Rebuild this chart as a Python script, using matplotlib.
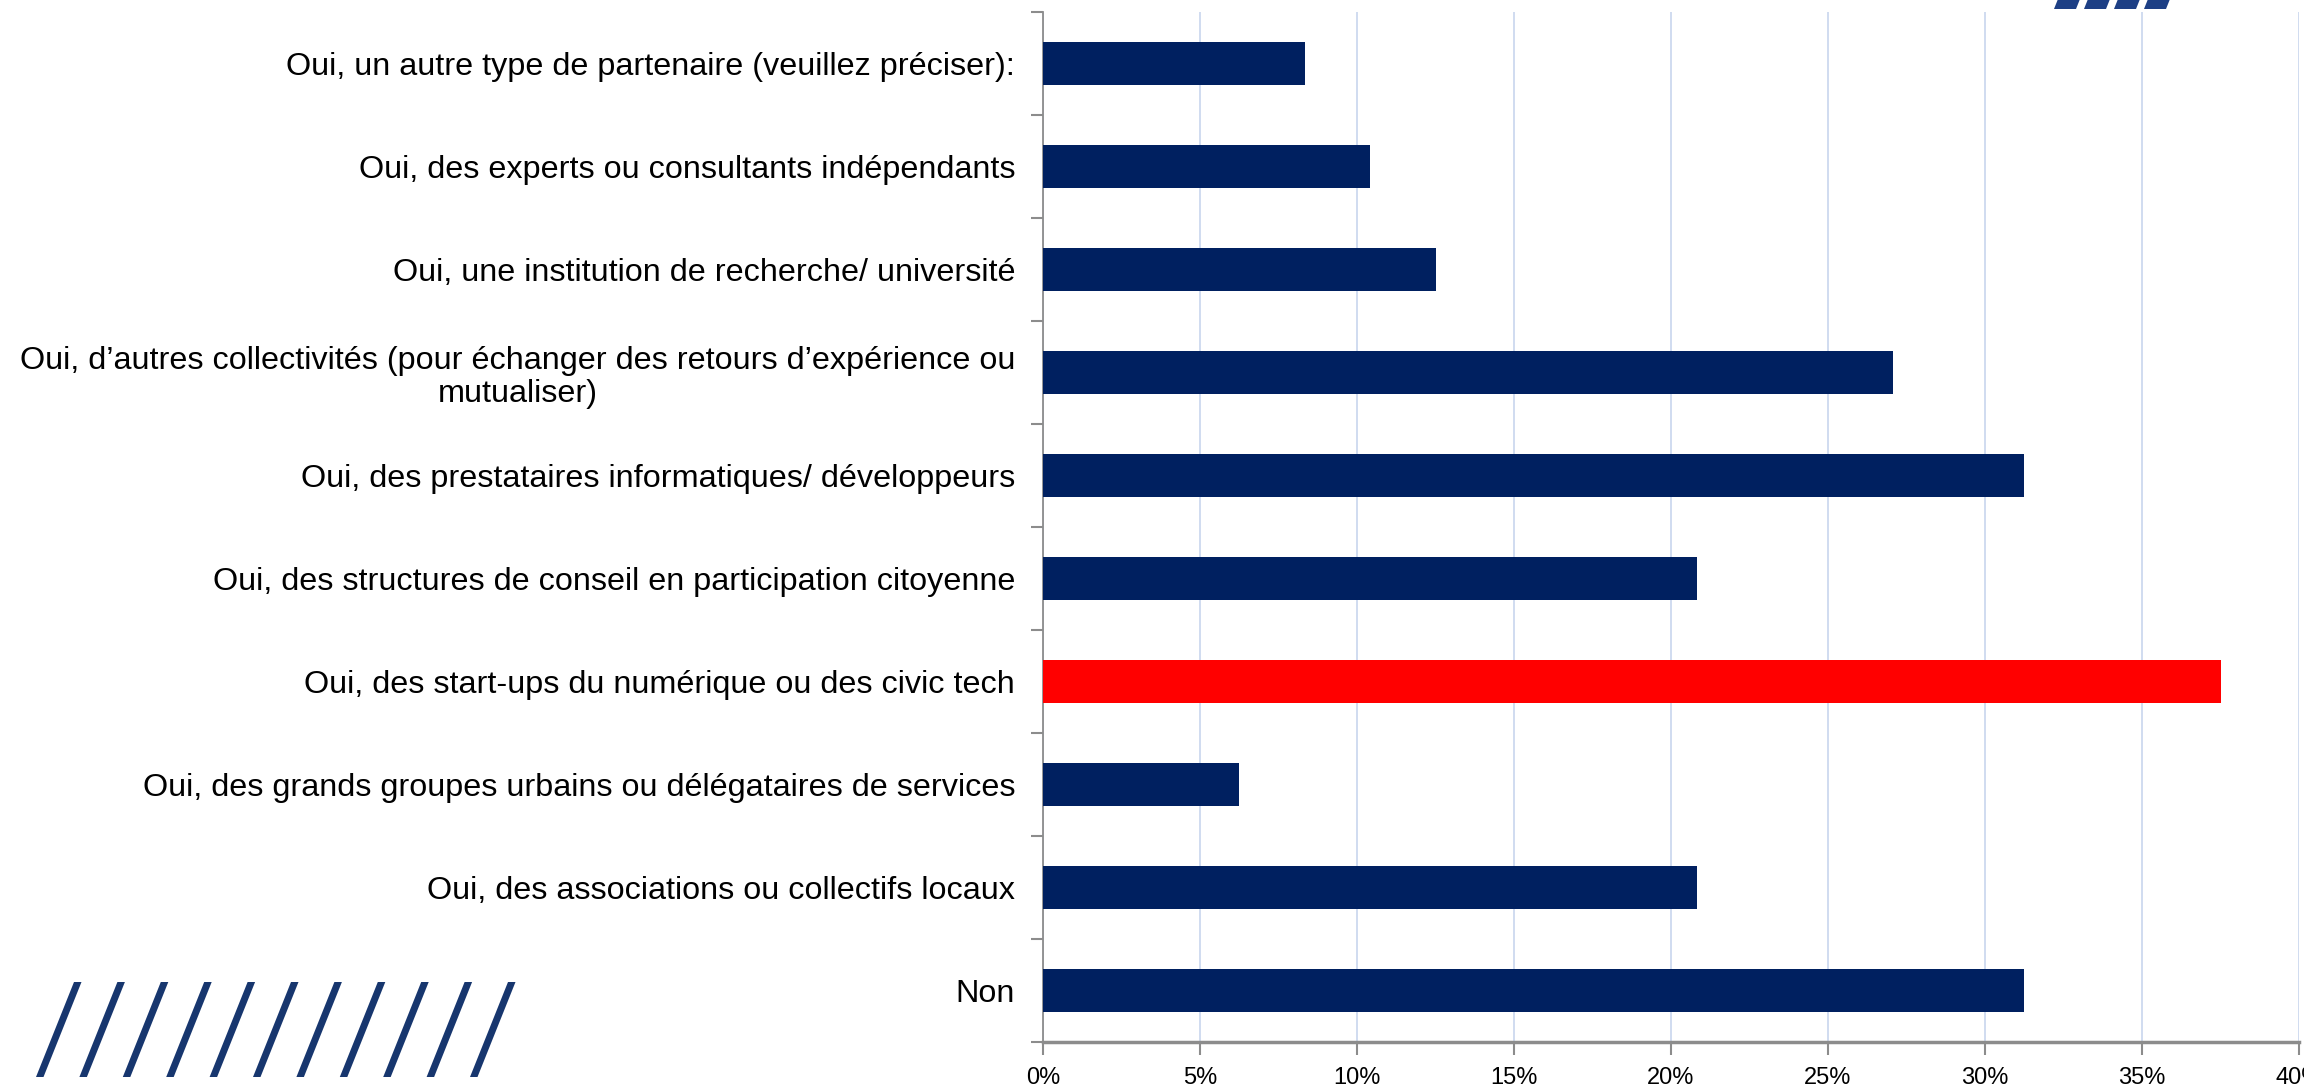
import matplotlib.pyplot as plt
from matplotlib.patches import Polygon
from matplotlib.ticker import FixedLocator, PercentFormatter

# categories listed bottom -> top
categories = [
    'Non',
    'Oui, des associations ou collectifs locaux',
    'Oui, des grands groupes urbains ou délégataires de services',
    'Oui, des start-ups du numérique ou des civic tech',
    'Oui, des structures de conseil en participation citoyenne',
    'Oui, des prestataires informatiques/ développeurs',
    'Oui, d’autres collectivités (pour échanger des retours d’expérience ou\nmutualiser)',
    'Oui, une institution de recherche/ université',
    'Oui, des experts ou consultants indépendants',
    'Oui, un autre type de partenaire (veuillez préciser):',
]
values = [31.25, 20.83, 6.25, 37.5, 20.83, 31.25, 27.08, 12.5, 10.42, 8.33]
highlight = 'Oui, des start-ups du numérique ou des civic tech'
x_ticks = [0, 5, 10, 15, 20, 25, 30, 35, 40]

navy = '#002060'
red = '#ff0000'
grid_c = '#cdd9ef'
axis_c = '#8c8c8c'

W, H = 2304, 1089
fig = plt.figure(figsize=(W / 100, H / 100), dpi=100)
ax = fig.add_axes([1043 / W, 1 - 1042 / H, (2299 - 1043) / W, 1030 / H])

ypos = list(range(len(categories)))
colors = [red if c == highlight else navy for c in categories]
ax.barh(ypos, values, height=0.41, color=colors, zorder=3)

ax.set_xlim(0, 40)
ax.set_ylim(-0.5, len(categories) - 0.5)

# x axis
ax.xaxis.set_major_locator(FixedLocator(x_ticks))
ax.xaxis.set_major_formatter(PercentFormatter(decimals=0))
ax.grid(axis='x', color=grid_c, linewidth=1.3, zorder=0)
ax.tick_params(axis='x', length=9, width=1.5, color=axis_c, pad=9)
for lab in ax.get_xticklabels():
    lab.set_family(['Liberation Sans Narrow', 'Liberation Sans'])
    lab.set_fontsize(17)
    lab.set_color('black')

# y axis: ticks at category boundaries, labels at centres
ax.yaxis.set_major_locator(FixedLocator([i - 0.5 for i in range(len(categories) + 1)]))
ax.yaxis.set_major_formatter(plt.NullFormatter())
ax.yaxis.set_minor_locator(FixedLocator(ypos))
ax.set_yticklabels(categories, minor=True)
ax.tick_params(axis='y', which='major', length=9, width=1.5, color=axis_c)
ax.tick_params(axis='y', which='minor', length=0, pad=20)
for lab in ax.get_yticklabels(minor=True):
    lab.set_family(['Liberation Sans', 'DejaVu Sans'])
    lab.set_fontsize(23.3)
    lab.set_multialignment('center')
    lab.set_linespacing(1.12)

for s in ['top', 'right']:
    ax.spines[s].set_visible(False)
ax.spines['left'].set_color(axis_c)
ax.spines['left'].set_linewidth(1.3)
ax.spines['bottom'].set_color(axis_c)
ax.spines['bottom'].set_linewidth(2.5)


def stripe(x_bot, y_bot, y_top, width, dx, color):
    # slanted parallelogram given in figure pixels (y from top)
    pts = [(x_bot, y_bot), (x_bot + width, y_bot),
           (x_bot + width + dx, y_top), (x_bot + dx, y_top)]
    pts = [(x / W, 1 - y / H) for x, y in pts]
    fig.add_artist(Polygon(pts, closed=True, facecolor=color, edgecolor='none',
                           transform=fig.transFigure))


# decorative slashes, bottom left
for i in range(11):
    stripe(36 + i * 43.4, 1077, 982, 7.5, 38, '#17366e')
# cut-off logo, top right
for i in range(4):
    stripe(2054 + i * 30, 9, -1, 22, 4, '#1d3f85')

fig.savefig('out.png', dpi=100)
